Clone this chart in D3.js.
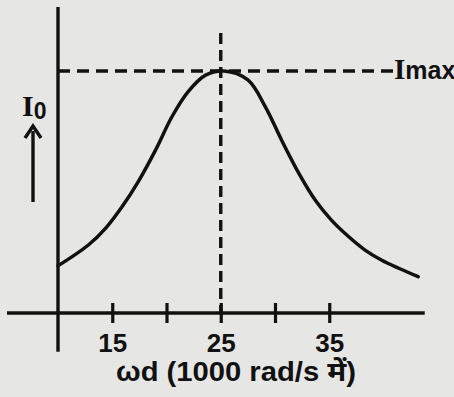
<!DOCTYPE html>
<html>
<head>
<meta charset="utf-8">
<script src="https://cdn.jsdelivr.net/npm/d3@7"></script>
<style>
  html, body { margin: 0; padding: 0; background: #e6e6e4; }
  svg { display: block; }
  text { fill: #111; }
</style>
</head>
<body>
<svg id="chart" width="454" height="397"></svg>
<script>
// Resonance curve: current amplitude vs driving angular frequency
const omega = [10, 12.8, 14.4, 15.9, 17.4, 19.0, 20.5, 22.0, 23.6, 25.3, 27.5, 29.1, 30.6, 32.2, 33.7, 35.2, 36.8, 38.3, 39.8, 41.4, 43.2];
const current = [0.195, 0.281, 0.351, 0.439, 0.543, 0.674, 0.811, 0.915, 0.983, 1.0, 0.963, 0.853, 0.715, 0.577, 0.467, 0.384, 0.315, 0.260, 0.219, 0.185, 0.150];
const tickValues = [15, 20, 25, 30, 35];
const tickLabels = ["15", "", "25", "", "35"];
const resonance = 25;
const iMax = 1.0;
const xExtent = [5.3, 43.8];
const yExtent = [-0.16, 1.264];
const resonanceTop = 1.157;
const iMaxEnd = 41.0;

const svg = d3.select("#chart");
const ink = "#111";
const sans = "'Liberation Sans', Arial, 'Noto Sans', sans-serif";
const serif = "'Liberation Serif', 'Times New Roman', serif";

const x = d3.scaleLinear().domain([10, 35]).range([58, 329.25]);
const y = d3.scaleLinear().domain([0, 1]).range([313, 71]);

// Axes lines
svg.append("line")
  .attr("x1", x(xExtent[0])).attr("x2", x(xExtent[1]))
  .attr("y1", y(0)).attr("y2", y(0))
  .attr("stroke", ink).attr("stroke-width", 3.4);
svg.append("line")
  .attr("x1", x(10)).attr("x2", x(10))
  .attr("y1", y(yExtent[0])).attr("y2", y(yExtent[1]))
  .attr("stroke", ink).attr("stroke-width", 3.4);

// Ticks crossing the x axis
const axis = d3.axisBottom(x)
  .tickValues(tickValues)
  .tickSize(20)
  .tickFormat((d, i) => tickLabels[i]);
const gx = svg.append("g")
  .attr("transform", `translate(0,${y(0) - 10})`)
  .call(axis);
gx.select(".domain").remove();
gx.selectAll(".tick line").attr("stroke", ink).attr("stroke-width", 3.2);
gx.selectAll(".tick text")
  .attr("y", 49).attr("dy", 0)
  .attr("font-family", sans)
  .attr("font-size", 26)
  .attr("font-weight", "bold")
  .style("fill", ink);

// Dashed guides
svg.append("line")
  .attr("x1", x(resonance)).attr("x2", x(resonance))
  .attr("y1", y(resonanceTop)).attr("y2", y(0))
  .attr("stroke", ink).attr("stroke-width", 3.4)
  .attr("stroke-dasharray", "11,6");
svg.append("line")
  .attr("x1", x(10)).attr("x2", x(iMaxEnd))
  .attr("y1", y(iMax)).attr("y2", y(iMax))
  .attr("stroke", ink).attr("stroke-width", 3.4)
  .attr("stroke-dasharray", "12,7");

// Resonance curve
const line = d3.line()
  .x((d, i) => x(omega[i]))
  .y(d => y(d))
  .curve(d3.curveCatmullRom.alpha(0.5));
svg.append("path")
  .attr("d", line(current))
  .attr("fill", "none")
  .attr("stroke", ink)
  .attr("stroke-width", 3.5)
  .attr("stroke-linecap", "round");

// I_max label
const imax = svg.append("text")
  .attr("x", 394).attr("y", 79);
imax.append("tspan")
  .attr("font-family", serif)
  .attr("font-size", 29).attr("font-weight", "bold")
  .text("I");
imax.append("tspan")
  .attr("font-family", sans)
  .attr("font-size", 25).attr("font-weight", "bold")
  .text("max");

// I_0 label with upward arrow
const i0 = svg.append("text")
  .attr("x", 22).attr("y", 116);
i0.append("tspan")
  .attr("font-family", serif)
  .attr("font-size", 30).attr("font-weight", "bold")
  .text("I");
i0.append("tspan")
  .attr("font-family", sans)
  .attr("font-size", 23).attr("dy", 3).attr("font-weight", "bold")
  .text("0");

svg.append("line")
  .attr("x1", 33).attr("x2", 33)
  .attr("y1", 202).attr("y2", 131)
  .attr("stroke", ink).attr("stroke-width", 3.4);
svg.append("path")
  .attr("d", "M25,138 L33,126 L41,138")
  .attr("fill", "none").attr("stroke", ink).attr("stroke-width", 3.4)
  .attr("stroke-linejoin", "miter");

// x axis title
svg.append("text")
  .attr("x", 236).attr("y", 381)
  .attr("text-anchor", "middle")
  .attr("font-family", sans)
  .attr("font-size", 27)
  .attr("font-weight", "bold")
  .attr("textLength", 240)
  .attr("lengthAdjust", "spacingAndGlyphs")
  .text("ωd (1000 rad/s में)");
</script>
</body>
</html>
